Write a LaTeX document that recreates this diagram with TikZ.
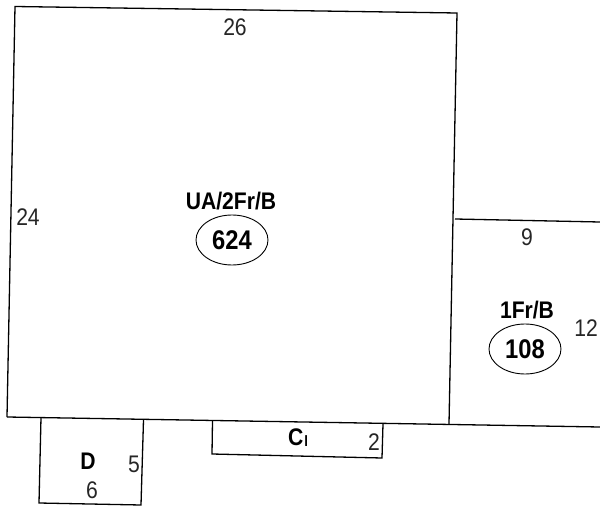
\documentclass[tikz,border=0pt]{standalone}
\usepackage{fontspec}
\setmainfont{Liberation Sans}
\newfontfamily\tallfont[FakeStretch=0.88]{Liberation Sans}
\usetikzlibrary{shapes.geometric}
\tikzset{
  wall/.style={draw=black,line width=1.3pt},
  dim/.style={font=\tallfont\fontsize{24}{26}\selectfont,inner sep=0pt,text=black!85},
  lab/.style={font=\tallfont\fontsize{24}{26}\selectfont\bfseries,inner sep=0pt},
  area/.style={draw=black,line width=0.9pt,ellipse,minimum width=72pt,minimum height=50pt,inner sep=0pt,font=\tallfont\fontsize{27}{29}\selectfont\bfseries}
}
\begin{document}
\begin{tikzpicture}[x=1pt,y=-1pt]
\useasboundingbox[fill=white] (0,0) rectangle (600,508);
% corners
\coordinate (tl) at (15,6.5);
\coordinate (tr) at (457,13);
\coordinate (bl) at (7,417);
\coordinate (br) at (449,424);
\coordinate (be) at (600,427);
\coordinate (rm) at (455,219);
\coordinate (re) at (600,222);
\coordinate (dtl) at (41,417.5);
\coordinate (dbl) at (39,503);
\coordinate (dbr) at (141,505);
\coordinate (dtr) at (143.5,420);
\coordinate (ctl) at (212.5,421);
\coordinate (cbl) at (212,454);
\coordinate (cbr) at (382,458);
\coordinate (ctr) at (383,424);
\draw[wall] (bl) -- (tl) -- (tr) -- (br);
\draw[wall] (bl) -- (be);
\draw[wall] (rm) -- (re);
\draw[wall] (dtl) -- (dbl) -- (dbr) -- (dtr);
\draw[wall] (ctl) -- (cbl) -- (cbr) -- (ctr);
% dimensions
\node[dim] (d26) at (235,27) {26};
\node[dim] (d24) at (28,217) {24};
\node[dim] (d9) at (527,237) {9};
\node[dim] (d12) at (586,328) {12};
\node[dim] (d5) at (134,464) {5};
\node[dim] (d6) at (92,490) {6};
\node[dim] (d2) at (374,442) {2};
% labels
\node[lab] (ua) at (231,201) {UA/2Fr/B};
\node[area] (a1) at (232,240) {624};
\node[lab] (f1) at (527,310) {1Fr/B};
\node[area] (a2) at (525,349) {108};
\node[lab] (dd) at (88,461) {D};
\node[lab] (cc) at (298,438) {C\kern1pt\raisebox{-1pt}{\fontsize{15}{15}\selectfont l}};
\end{tikzpicture}
\end{document}
